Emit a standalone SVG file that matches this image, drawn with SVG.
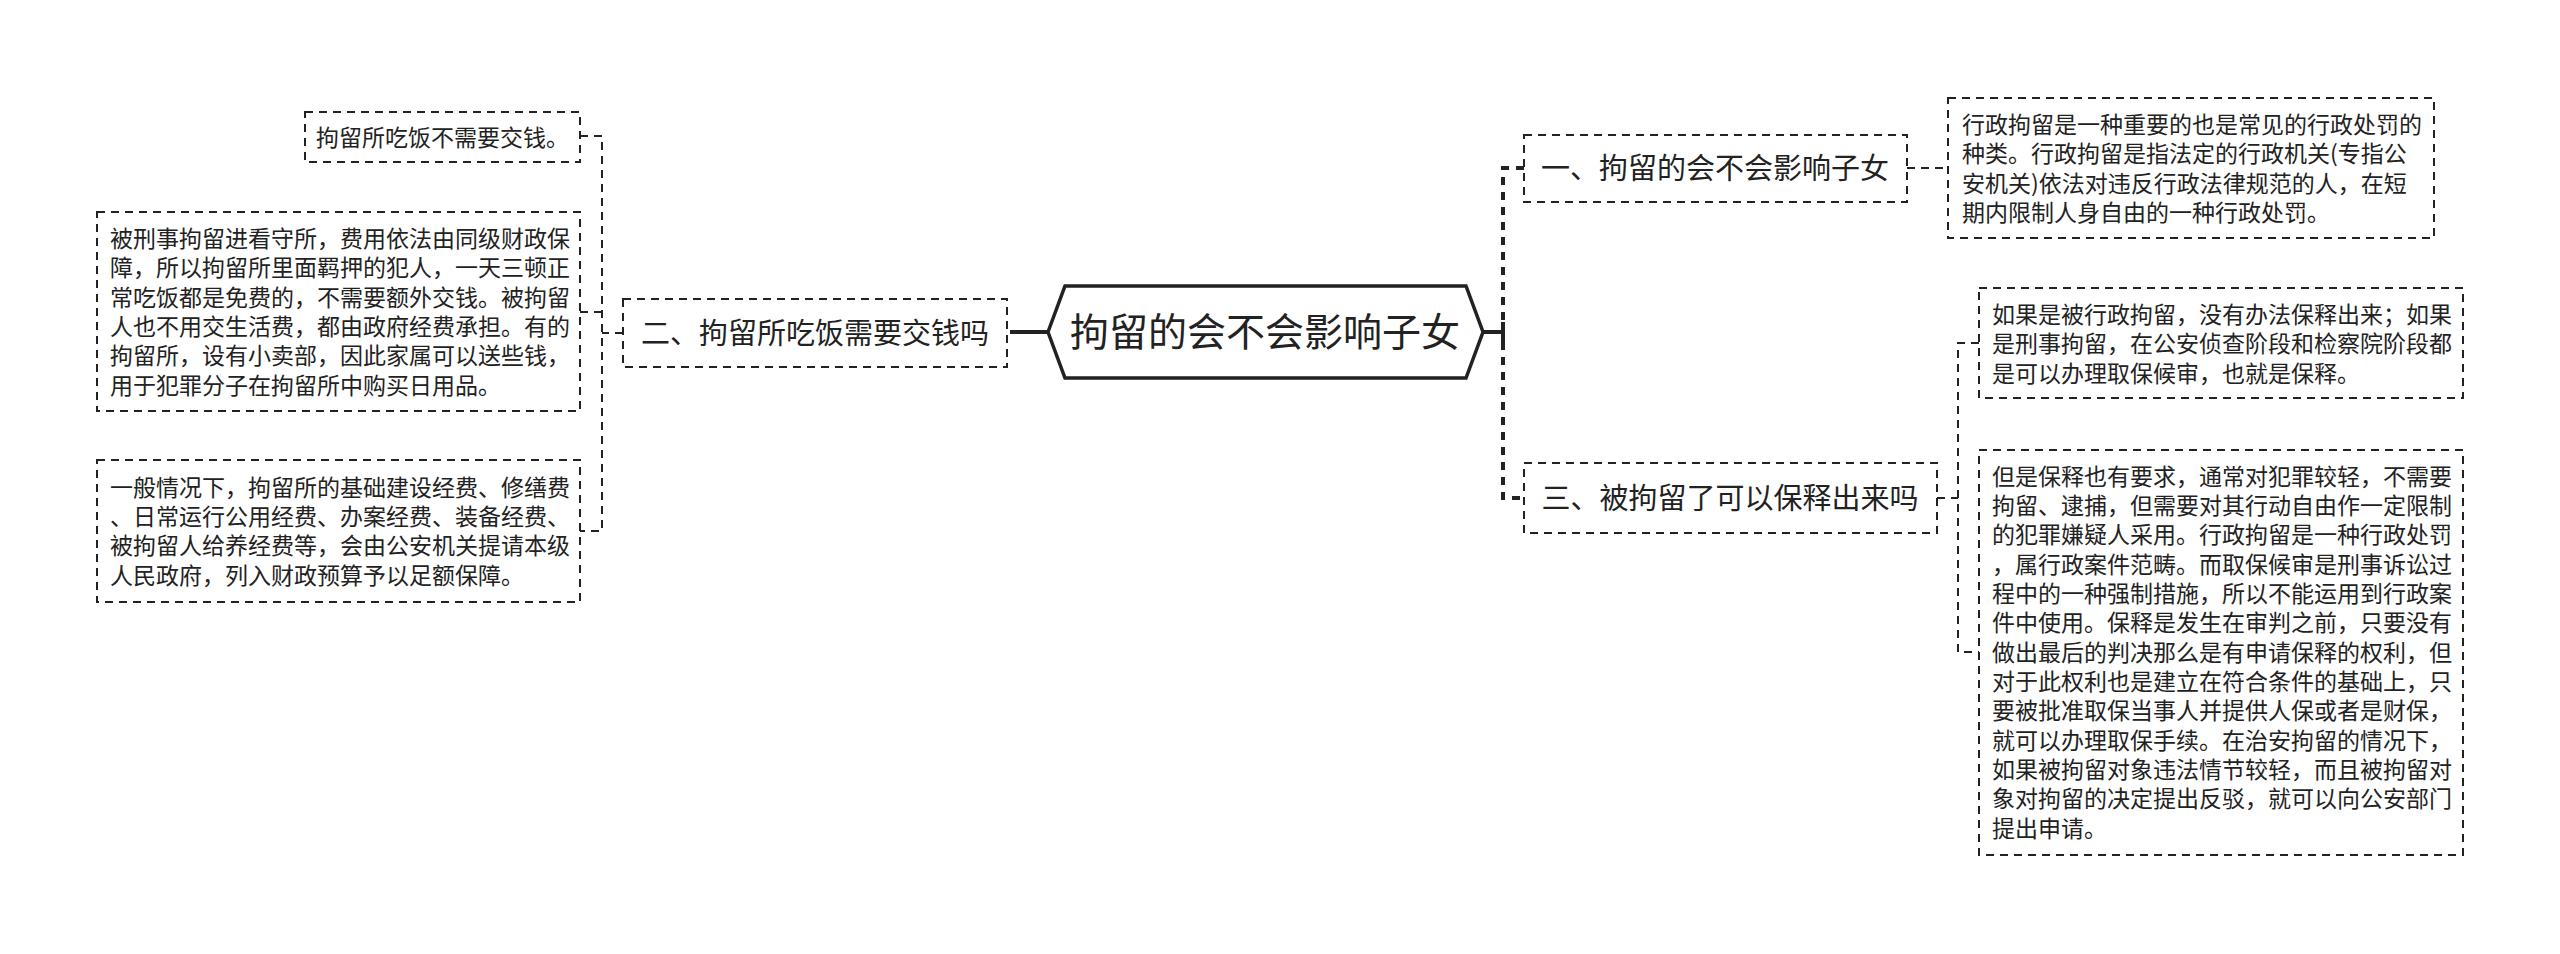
<svg xmlns="http://www.w3.org/2000/svg" width="2560" height="954" viewBox="0 0 2560 954">
<style>
.box{fill:#fff;stroke:#222;stroke-width:2;stroke-dasharray:8 6}
.thin{fill:none;stroke:#222;stroke-width:2;stroke-dasharray:8 6}
.thick{fill:none;stroke:#222;stroke-width:4;stroke-dasharray:8 7}
.solid{fill:none;stroke:#222;stroke-width:4}
.root{fill:#fff;stroke:#222;stroke-width:3.5}
text{font-family:"Noto Sans CJK SC","Noto Sans",sans-serif;fill:#222}
.t38{font-size:39px;text-anchor:middle}
.t29{font-size:29px;text-anchor:middle}
.t23{font-size:23px}
</style>
<g id="connectors">
  <path class="solid" d="M1048 332 H1018"/>
  <path class="thick" d="M1018 332 H1007"/>
  <path class="solid" d="M1483 332 H1503 M1503 322 V342"/>
  <path class="thick" d="M1524 168 H1503 V498 H1524"/>
  <path class="thin" d="M623 333 H602"/>
  <path class="thin" d="M580 136 H602 V531 H580 M602 312 H580"/>
  <path class="thin" d="M1907 168 H1948"/>
  <path class="thin" d="M1937 498 H1958 M1979 343 H1958 V652 H1979"/>
</g>
<g id="root">
  <polygon class="root" points="1048,332 1065,286 1466,286 1483,332 1466,378 1065,378"/>
  <text class="t38" x="1265" y="346">拘留的会不会影响子女</text>
</g>
<g id="branch2">
  <rect class="box" x="623" y="299" width="384" height="68"/>
  <text class="t29" x="815" y="344">二、拘留所吃饭需要交钱吗</text>
</g>
<g id="branch1">
  <rect class="box" x="1524" y="135" width="383" height="67"/>
  <text class="t29" x="1715" y="179">一、拘留的会不会影响子女</text>
</g>
<g id="branch3">
  <rect class="box" x="1524" y="463" width="413" height="70"/>
  <text class="t29" x="1730" y="509">三、被拘留了可以保释出来吗</text>
</g>
<g id="leafL1">
  <rect class="box" x="305" y="112" width="275" height="50"/>
  <text class="t23" x="316" y="146">拘留所吃饭不需要交钱。</text>
</g>
<g id="leafL2">
  <rect class="box" x="97" y="212" width="483" height="199"/>
  <text class="t23" x="110">
    <tspan x="110" y="247">被刑事拘留进看守所，费用依法由同级财政保</tspan>
    <tspan x="110" y="276">障，所以拘留所里面羁押的犯人，一天三顿正</tspan>
    <tspan x="110" y="306">常吃饭都是免费的，不需要额外交钱。被拘留</tspan>
    <tspan x="110" y="335">人也不用交生活费，都由政府经费承担。有的</tspan>
    <tspan x="110" y="364">拘留所，设有小卖部，因此家属可以送些钱，</tspan>
    <tspan x="110" y="394">用于犯罪分子在拘留所中购买日用品。</tspan>
  </text>
</g>
<g id="leafL3">
  <rect class="box" x="97" y="460" width="483" height="142"/>
  <text class="t23">
    <tspan x="110" y="496">一般情况下，拘留所的基础建设经费、修缮费</tspan>
    <tspan x="110" y="525">、日常运行公用经费、办案经费、装备经费、</tspan>
    <tspan x="110" y="554">被拘留人给养经费等，会由公安机关提请本级</tspan>
    <tspan x="110" y="584">人民政府，列入财政预算予以足额保障。</tspan>
  </text>
</g>
<g id="leafR1">
  <rect class="box" x="1948" y="98" width="486" height="140"/>
  <text class="t23">
    <tspan x="1962" y="133">行政拘留是一种重要的也是常见的行政处罚的</tspan>
    <tspan x="1962" y="162">种类。行政拘留是指法定的行政机关(专指公</tspan>
    <tspan x="1962" y="192">安机关)依法对违反行政法律规范的人，在短</tspan>
    <tspan x="1962" y="221">期内限制人身自由的一种行政处罚。</tspan>
  </text>
</g>
<g id="leafR2">
  <rect class="box" x="1979" y="288" width="484" height="110"/>
  <text class="t23">
    <tspan x="1992" y="323">如果是被行政拘留，没有办法保释出来；如果</tspan>
    <tspan x="1992" y="352">是刑事拘留，在公安侦查阶段和检察院阶段都</tspan>
    <tspan x="1992" y="382">是可以办理取保候审，也就是保释。</tspan>
  </text>
</g>
<g id="leafR3">
  <rect class="box" x="1979" y="450" width="484" height="405"/>
  <text class="t23">
    <tspan x="1992" y="485">但是保释也有要求，通常对犯罪较轻，不需要</tspan>
    <tspan x="1992" y="514">拘留、逮捕，但需要对其行动自由作一定限制</tspan>
    <tspan x="1992" y="543">的犯罪嫌疑人采用。行政拘留是一种行政处罚</tspan>
    <tspan x="1992" y="573">，属行政案件范畴。而取保候审是刑事诉讼过</tspan>
    <tspan x="1992" y="602">程中的一种强制措施，所以不能运用到行政案</tspan>
    <tspan x="1992" y="631">件中使用。保释是发生在审判之前，只要没有</tspan>
    <tspan x="1992" y="661">做出最后的判决那么是有申请保释的权利，但</tspan>
    <tspan x="1992" y="690">对于此权利也是建立在符合条件的基础上，只</tspan>
    <tspan x="1992" y="719">要被批准取保当事人并提供人保或者是财保，</tspan>
    <tspan x="1992" y="749">就可以办理取保手续。在治安拘留的情况下，</tspan>
    <tspan x="1992" y="778">如果被拘留对象违法情节较轻，而且被拘留对</tspan>
    <tspan x="1992" y="807">象对拘留的决定提出反驳，就可以向公安部门</tspan>
    <tspan x="1992" y="837">提出申请。</tspan>
  </text>
</g>
</svg>
